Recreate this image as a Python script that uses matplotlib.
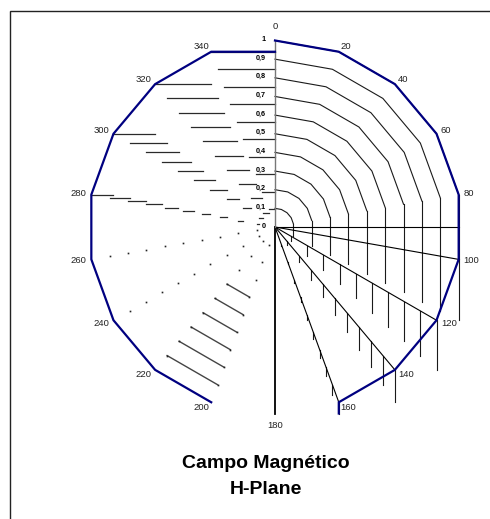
import matplotlib
matplotlib.use("Agg")
import matplotlib.pyplot as plt
import numpy as np

plt.rcParams['font.family'] = ['Liberation Sans', 'DejaVu Sans']

# category angles (deg) and the series value at each one
angles = [0, 20, 40, 60, 80, 100, 120, 140, 160, 180, 200, 220, 240, 260, 280, 300, 320, 340]
values = [1, 1, 1, 1, 1, 1, 1, 1, 1, 1, 1, 1, 1, 1, 1, 1, 1, 1]
cat_labels = ['0', '20', '40', '60', '80', '100', '120', '140', '160', '180',
              '200', '220', '240', '260', '280', '300', '320', '340']
levels = [0.0, 0.1, 0.2, 0.3, 0.4, 0.5, 0.6, 0.7, 0.8, 0.9, 1.0]
level_labels = ['0', '0,1', '0,2', '0,3', '0,4', '0,5', '0,6', '0,7', '0,8', '0,9', '1']


def pt(r, ang):
    th = np.deg2rad(ang)
    return r * np.sin(th), r * np.cos(th)


W, H = 490, 519
R = 186.5          # pixels per unit radius
cx, cy = 275, 227  # centre, pixels from top
fig = plt.figure(figsize=(W / 100, H / 100), dpi=100)
x0, x1, y0, y1 = -1.3, 1.3, -1.3, 1.2
ax = fig.add_axes([(cx + x0 * R) / W, (H - cy + y0 * R) / H, (x1 - x0) * R / W, (y1 - y0) * R / H])
ax.set_xlim(x0, x1)
ax.set_ylim(y0, y1)
ax.axis('off')

grid = dict(color='#1a1a1a', lw=0.8)

for r in levels[1:]:
    # right half rings: proper polygon up to 80
    xs, ys = pt(r, np.array(angles[:5]))
    ax.plot(xs, ys, **grid)
    # then every segment drawn as a vertical drop
    for a in angles[4:9]:
        xa, ya = pt(r, a)
        xb, yb = pt(r, a + 20)
        ax.plot([xa, xa], [ya, yb], **grid)
    # upper left: horizontal strokes
    for a in angles[14:]:
        xa, ya = pt(r, a)
        xb, yb = pt(r, a + 20)
        ax.plot([xa, xb], [ya, ya], color='#2a2a2a', lw=0.9)
    # lower left: 200-220 strokes and leftover dots
    if 0.4 <= r < 1:
        xs, ys = pt(r, np.array([200, 220]))
        ax.plot(xs, ys, color='#444444', lw=1.0)
    if r < 1:
        xs, ys = pt(r, np.array([200, 220, 240, 260]))
        ax.plot(xs, ys, ls='none', marker='s', ms=1.2, mew=0, color='#222222')

# spokes
for a in angles[5:9]:
    xs, ys = pt(np.array([0, 1]), a)
    ax.plot(xs, ys, color='black', lw=0.8)
xe, ye = pt(1, 80)
ax.plot([0, xe], [0, 0], color='black', lw=0.8)
xe, ye = pt(1, 180)
ax.plot([0, 0], [0, ye], color='black', lw=1.3)
ax.plot([0, 0], [0, 1], color='#777777', lw=1.0)

# value axis labels
for lv, lab in zip(levels, level_labels):
    ax.annotate(lab, (0, lv), xytext=(-9, 1), textcoords='offset pixels',
                ha='right', va='center', fontsize=5.2, fontweight='bold')

# series
sx, sy = pt(np.array(values, float), np.array(angles))
blue = dict(color='#000080', lw=1.6, solid_joinstyle='miter')
ax.plot(list(sx[10:]) + [sx[0]], list(sy[10:]) + [sy[17]], **blue)
ax.plot(list(sx[:9]) + [sx[8]], list(sy[:9]) + [sy[9]], **blue)

# category labels
for a, lab in zip(angles, cat_labels):
    xa, ya = pt(1, a)
    th = np.deg2rad(a)
    if a == 0:
        off, ha = (0, 14), 'center'
    elif a == 180:
        off, ha = (0, -12), 'center'
    else:
        off = (5 * np.sin(th), 6 * np.cos(th))
        ha = 'left' if a < 180 else 'right'
    ax.annotate(lab, (xa, ya), xytext=off, textcoords='offset pixels',
                ha=ha, va='center', fontsize=6.8, color='#222222')

fig.text(266 / W, 1 - 464 / H, 'Campo Magnético', ha='center', va='center',
         fontsize=14, fontweight='bold')
fig.text(266 / W, 1 - 490 / H, 'H-Plane', ha='center', va='center',
         fontsize=14, fontweight='bold')

fig.add_artist(plt.Rectangle((9.5 / W, -0.01), 1.0, 1 - 10.5 / H + 0.01,
                             transform=fig.transFigure, fill=False, ec='#222222', lw=1.0))

fig.savefig('out.png', dpi=100)
